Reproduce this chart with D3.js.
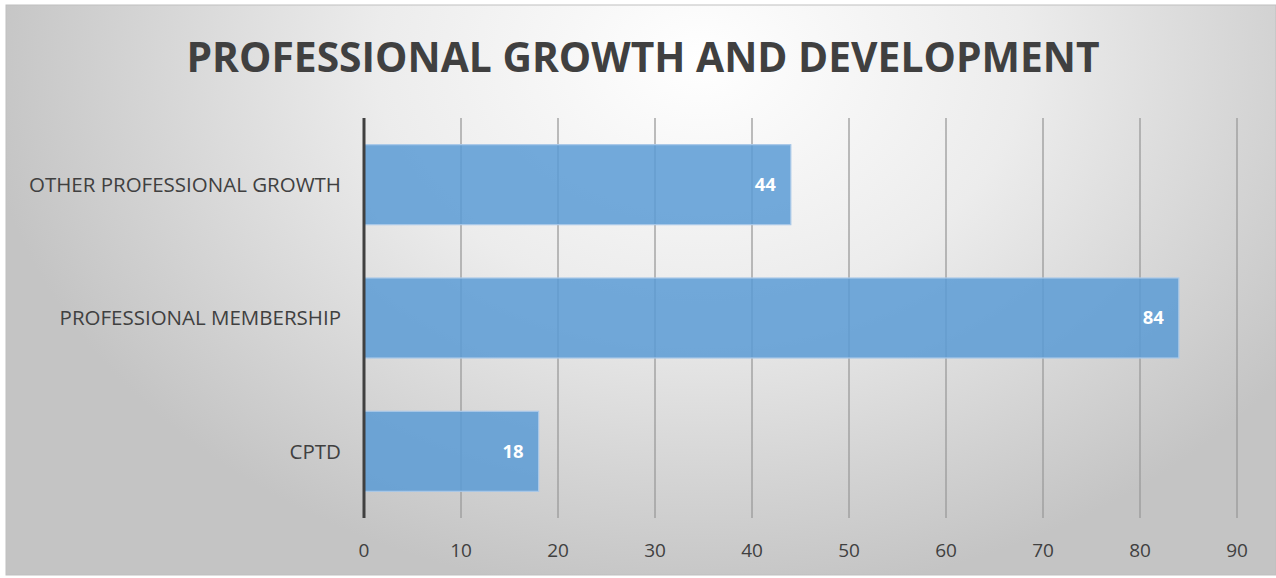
<!DOCTYPE html>
<html>
<head>
<meta charset="utf-8">
<script src="https://cdn.jsdelivr.net/npm/d3@7"></script>
<style>
  body { margin: 0; background: #fff; }
  svg { display: block; font-family: "Open Sans", "DejaVu Sans", sans-serif; }
</style>
</head>
<body>
<div id="chart"></div>
<script>
const categories = ["OTHER PROFESSIONAL GROWTH", "PROFESSIONAL MEMBERSHIP", "CPTD"];
const values = [44, 84, 18];
const xTicks = [0, 10, 20, 30, 40, 50, 60, 70, 80, 90];

const width = 1276, height = 578;
const margin = { top: 118, right: 39, bottom: 60, left: 364 };

const svg = d3.select("#chart")
  .append("svg")
  .attr("width", width)
  .attr("height", height);

const defs = svg.append("defs");
const grad = defs.append("radialGradient")
  .attr("id", "bg")
  .attr("gradientUnits", "userSpaceOnUse")
  .attr("cx", 700).attr("cy", 60)
  .attr("r", 720)
  .attr("gradientTransform", "translate(700,60) scale(1,0.75) translate(-700,-60)");
grad.append("stop").attr("offset", "0%").attr("stop-color", "#ffffff");
grad.append("stop").attr("offset", "45%").attr("stop-color", "#ececec");
grad.append("stop").attr("offset", "100%").attr("stop-color", "#c4c4c4");

svg.append("rect")
  .attr("x", 6).attr("y", 5)
  .attr("width", width - 6).attr("height", height - 8)
  .attr("fill", "url(#bg)")
  .attr("stroke", "#bfbfbf")
  .attr("stroke-width", 1);

svg.append("text")
  .attr("x", 643).attr("y", 72)
  .attr("text-anchor", "middle")
  .attr("font-size", 41)
  .attr("font-weight", "bold")
  .attr("fill", "#404040")
  .attr("textLength", 913)
  .attr("lengthAdjust", "spacingAndGlyphs")
  .text("PROFESSIONAL GROWTH AND DEVELOPMENT");

const x = d3.scaleLinear()
  .domain([0, 90])
  .range([margin.left, width - margin.right]);

const y = d3.scaleBand()
  .domain(categories)
  .range([margin.top, height - margin.bottom])
  .paddingInner(0.4)
  .paddingOuter(0.2);

// gridlines
svg.append("g")
  .selectAll("line")
  .data(xTicks.slice(1))
  .join("line")
  .attr("x1", d => x(d)).attr("x2", d => x(d))
  .attr("y1", margin.top).attr("y2", height - margin.bottom)
  .attr("stroke", "#9a9a9a")
  .attr("stroke-width", 1.3);

// bars
svg.append("g")
  .selectAll("rect")
  .data(values)
  .join("rect")
  .attr("x", x(0))
  .attr("y", (d, i) => y(categories[i]))
  .attr("width", d => x(d) - x(0))
  .attr("height", y.bandwidth())
  .attr("fill", "#5b9bd5")
  .attr("fill-opacity", 0.85)
  .attr("stroke", "#a9c8e8")
  .attr("stroke-width", 1.2);

// value labels
svg.append("g")
  .selectAll("text")
  .data(values)
  .join("text")
  .attr("x", d => x(d) - 15)
  .attr("y", (d, i) => y(categories[i]) + y.bandwidth() / 2)
  .attr("dy", "0.35em")
  .attr("text-anchor", "end")
  .attr("font-size", 18.5)
  .attr("font-weight", "bold")
  .attr("fill", "#ffffff")
  .text(d => d);

// vertical axis line
svg.append("line")
  .attr("x1", x(0)).attr("x2", x(0))
  .attr("y1", margin.top).attr("y2", height - margin.bottom)
  .attr("stroke", "#404040")
  .attr("stroke-width", 3);

// category labels
svg.append("g")
  .selectAll("text")
  .data(categories)
  .join("text")
  .attr("x", 341)
  .attr("y", d => y(d) + y.bandwidth() / 2)
  .attr("dy", "0.35em")
  .attr("text-anchor", "end")
  .attr("font-size", 20.5)
  .attr("fill", "#404040")
  .text(d => d);

// x tick labels
svg.append("g")
  .selectAll("text")
  .data(xTicks)
  .join("text")
  .attr("x", d => x(d))
  .attr("y", 550)
  .attr("dy", "0.35em")
  .attr("text-anchor", "middle")
  .attr("font-size", 19)
  .attr("fill", "#404040")
  .text(d => d);
</script>
</body>
</html>
